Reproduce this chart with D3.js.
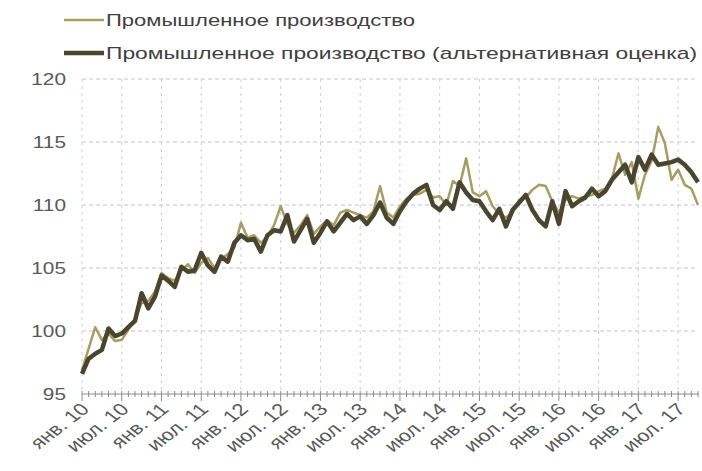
<!DOCTYPE html>
<html>
<head>
<meta charset="utf-8">
<script src="https://cdn.jsdelivr.net/npm/d3@7"></script>
<style>
  body { margin: 0; background: #fff; }
  svg { display: block; font-family: "Liberation Sans", Arial, sans-serif; }
</style>
</head>
<body>
<svg id="chart" width="702" height="471"></svg>
<script>
// months jan 2010 .. oct 2017
var years = [10, 11, 12, 13, 14, 15, 16, 17];
var month_names = ['янв.', 'фев.', 'мар.', 'апр.', 'май', 'июн.', 'июл.', 'авг.', 'сен.', 'окт.', 'ноя.', 'дек.'];
var months = [];
years.forEach(function (y) {
    month_names.forEach(function (m) { months.push(m + ' ' + y); });
});
months = months.slice(0, 94);

var series_names = ['Промышленное производство', 'Промышленное производство (альтернативная оценка)'];

var industry = [
    96.9, 98.6, 100.3, 99.3, 99.8, 99.2, 99.3, 100.1, 101.0, 102.2, 102.4, 103.1,
    104.6, 104.2, 104.0, 104.8, 105.3, 104.6, 105.4, 105.8, 105.0, 105.7, 106.1, 106.6,
    108.6, 107.4, 107.6, 107.0, 107.5, 108.4, 109.9, 108.5, 107.8, 108.4, 109.2, 107.7,
    108.3, 108.8, 108.4, 109.4, 109.6, 109.4, 109.2, 109.0, 109.5, 111.5, 109.4, 109.0,
    109.9, 110.5, 110.8, 110.9, 111.2, 110.6, 110.7, 110.0, 111.9, 111.5, 113.7, 111.0,
    110.7, 111.1, 109.9, 109.3, 109.0, 109.4, 110.4, 110.6, 111.2, 111.6, 111.5, 110.3,
    109.4, 110.4, 110.7, 110.5, 110.7, 110.8, 111.1, 111.3, 112.1, 114.1, 112.4, 113.4,
    110.5, 112.4, 113.5, 116.2, 114.9, 112.0, 112.8, 111.6, 111.3, 110.0
];

var industry_alt = [
    96.6, 97.8, 98.2, 98.5, 100.2, 99.6, 99.8, 100.3, 100.8, 103.0, 101.8, 102.7,
    104.4, 104.0, 103.5, 105.1, 104.7, 104.8, 106.2, 105.2, 104.7, 105.9, 105.5, 107.0,
    107.6, 107.2, 107.3, 106.3, 107.6, 108.0, 107.9, 109.2, 107.1, 108.0, 108.9, 107.0,
    107.8, 108.7, 107.9, 108.6, 109.3, 108.8, 109.1, 108.5, 109.2, 110.2, 109.0, 108.5,
    109.5, 110.3, 110.9, 111.3, 111.6, 110.0, 109.6, 110.3, 109.7, 111.8, 111.0, 110.4,
    110.3, 109.5, 108.8, 109.7, 108.3, 109.6, 110.2, 110.8, 109.6, 108.8, 108.3, 110.3,
    108.5, 111.1, 109.9, 110.3, 110.6, 111.3, 110.7, 111.1, 112.0, 112.6, 113.2, 111.8,
    113.8, 112.8, 114.0, 113.2, 113.3, 113.4, 113.6, 113.2, 112.6, 111.8
];

var y_ticks = [95, 100, 105, 110, 115, 120];

var light_colour = '#a59d62';
var dark_colour = '#4a452f';

// plot box (window.top is taken, so no "top" here)
var plot_left = 82, plot_right = 698, plot_top = 79, plot_bottom = 394;

var svg = d3.select('#chart');

var x = d3.scalePoint()
    .domain(months)
    .range([plot_left, plot_right]);

var y = d3.scaleLinear()
    .domain([95, 120])
    .range([plot_bottom, plot_top]);

// horizontal grid
svg.append('g')
    .selectAll('line')
    .data(y_ticks.slice(1))
    .enter()
    .append('line')
        .attr('x1', plot_left)
        .attr('x2', plot_right)
        .attr('y1', function (d) { return y(d); })
        .attr('y2', function (d) { return y(d); })
        .attr('stroke', '#c4c4c4')
        .attr('stroke-width', 1)
        .attr('stroke-dasharray', '4,3');

// vertical grid every 6 months
var half_years = months.filter(function (d, i) { return i % 6 == 0; });

svg.append('g')
    .selectAll('line')
    .data(half_years)
    .enter()
    .append('line')
        .attr('x1', function (d) { return x(d); })
        .attr('x2', function (d) { return x(d); })
        .attr('y1', plot_top)
        .attr('y2', plot_bottom)
        .attr('stroke', '#cfcfcf')
        .attr('stroke-width', 1)
        .attr('stroke-dasharray', '3,4');

// x axis with monthly ticks
var x_axis = svg.append('g');

x_axis.append('line')
    .attr('x1', plot_left)
    .attr('x2', plot_right + 1)
    .attr('y1', plot_bottom)
    .attr('y2', plot_bottom)
    .attr('stroke', '#8c8c8c')
    .attr('stroke-width', 1.2);

x_axis.selectAll('line.tick')
    .data(months)
    .enter()
    .append('line')
        .attr('class', 'tick')
        .attr('x1', function (d) { return x(d); })
        .attr('x2', function (d) { return x(d); })
        .attr('y1', plot_bottom - 3)
        .attr('y2', function (d, i) { return i % 6 == 0 ? plot_bottom + 7 : plot_bottom + 3; })
        .attr('stroke', '#8c8c8c')
        .attr('stroke-width', 1);

// labels look stretched sideways in the original, so scale after rotating
x_axis.selectAll('text')
    .data(half_years)
    .enter()
    .append('text')
        .attr('transform', function (d) {
            return 'translate(' + (x(d) + 3) + ',' + (plot_bottom + 12) + ') scale(1.3,1) rotate(-45)';
        })
        .attr('text-anchor', 'end')
        .attr('dy', '0.35em')
        .attr('font-size', 17)
        .attr('fill', '#595959')
        .text(function (d) { return d; });

// y labels
svg.append('g')
    .selectAll('text')
    .data(y_ticks)
    .enter()
    .append('text')
        .attr('transform', function (d) { return 'translate(66,' + y(d) + ') scale(1.3,1)'; })
        .attr('text-anchor', 'end')
        .attr('dy', '0.35em')
        .attr('font-size', 16)
        .attr('fill', '#595959')
        .text(function (d) { return d; });

// lines
var line = d3.line()
    .x(function (d, i) { return x(months[i]); })
    .y(function (d) { return y(d); });

svg.append('path')
    .datum(industry)
    .attr('d', line)
    .attr('fill', 'none')
    .attr('stroke', light_colour)
    .attr('stroke-width', 2.5)
    .attr('stroke-linejoin', 'round');

svg.append('path')
    .datum(industry_alt)
    .attr('d', line)
    .attr('fill', 'none')
    .attr('stroke', dark_colour)
    .attr('stroke-width', 4.5)
    .attr('stroke-linejoin', 'round');

// legend
var legend_rows = [
    { name: series_names[0], colour: light_colour, width: 2.5, y: 20, len: 309 },
    { name: series_names[1], colour: dark_colour, width: 4.5, y: 53, len: 591 }
];

var legend = svg.append('g')
    .selectAll('g')
    .data(legend_rows)
    .enter()
    .append('g');

legend.append('line')
    .attr('x1', 64)
    .attr('x2', 104)
    .attr('y1', function (d) { return d.y; })
    .attr('y2', function (d) { return d.y; })
    .attr('stroke', function (d) { return d.colour; })
    .attr('stroke-width', function (d) { return d.width; });

legend.append('text')
    .attr('x', 106)
    .attr('y', function (d) { return d.y; })
    .attr('dy', '0.35em')
    .attr('font-size', 17)
    .attr('fill', '#404040')
    .attr('textLength', function (d) { return d.len; })
    .attr('lengthAdjust', 'spacingAndGlyphs')
    .text(function (d) { return d.name; });
</script>
</body>
</html>
